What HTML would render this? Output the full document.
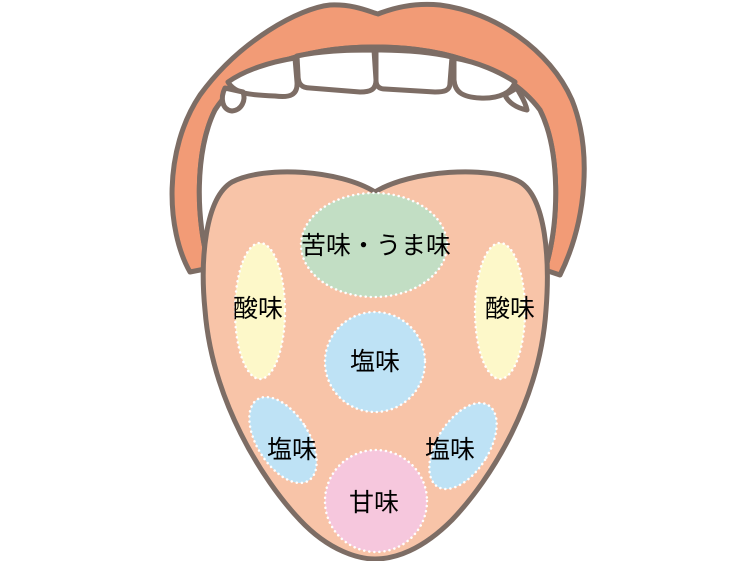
<!DOCTYPE html>
<html><head><meta charset="utf-8"><style>
html,body{margin:0;padding:0;background:#fff;width:750px;height:561px;overflow:hidden}
text{font-family:"Liberation Sans","Noto Sans CJK JP",sans-serif;font-size:25px;fill:#000;text-anchor:middle}
</style></head><body>
<svg width="750" height="561" viewBox="0 0 750 561" xmlns="http://www.w3.org/2000/svg">
<g stroke="#7d6d65" stroke-width="5" stroke-linejoin="round">
<path d="M190,272 C166,230 163,150 200,95 C240,40 300,8 330,5 C355,4 370,12 378,14 C388,10 410,2 440,5 C495,12 550,50 572,100 C592,150 587,220 560,275 L545,270 C560,220 560,150 540,110 C510,70 450,47 375,47 C300,47 240,70 215,110 C195,150 195,220 210,268 Z" fill="#f29b76"/>
<path d="M210,268 C195,220 195,150 215,110 C240,70 300,47 375,47 C450,47 510,70 540,110 C560,150 560,220 545,270 Z" fill="#fff"/>
<path d="M228,82 C245,70 270,62 295,58 L297,82 C298,95 290,98 275,96 C250,95 235,94 228,82 Z" fill="#fff"/>
<path d="M297,56 C320,51 345,50 374,50 L376,80 C376,90 370,92 360,92 L310,88 C300,88 298,82 298,75 Z" fill="#fff"/>
<path d="M376,50 C405,50 430,52 452,57 L450,83 C450,91 444,92 435,92 L385,89 C378,89 376,85 376,80 Z" fill="#fff"/>
<path d="M454,58 C478,62 500,72 515,82 C512,92 500,99 480,98 C462,97 455,92 454,80 Z" fill="#fff"/>
<path d="M225,88 C220,98 222,110 232,111 C242,110 246,100 243,92 Z" fill="#fff"/>
<path d="M505,95 C508,102 516,108 527,110 C525,100 520,95 517,88 Z" fill="#fff"/>
<path d="M375,192 C340,170 265,165 232,182 C205,198 200,260 205,310 C212,400 262,480 300,520 C330,552 360,559 375,559 C395,559 422,550 452,520 C492,478 540,400 546,310 C550,260 546,198 520,182 C490,165 410,170 375,192 Z" fill="#f8c4a8"/>
</g>
<g stroke="#fff" stroke-width="2.5" stroke-dasharray="0.1 5" stroke-linecap="round">
<ellipse cx="374" cy="245" rx="73" ry="52" fill="#c2dec4"/>
<ellipse cx="260" cy="311" rx="25" ry="68" fill="#fdf8c9"/>
<ellipse cx="500" cy="311" rx="25" ry="68" fill="#fdf8c9"/>
<circle cx="375" cy="362" r="50" fill="#bee2f5"/>
<ellipse cx="283" cy="440" rx="26" ry="48" transform="rotate(-32 283 440)" fill="#bee2f5"/>
<ellipse cx="463" cy="446" rx="26" ry="48" transform="rotate(32 463 446)" fill="#bee2f5"/>
<circle cx="376" cy="501" r="51" fill="#f6c7dd"/>
</g>
<text x="376" y="254">苦味・うま味</text>
<text x="258" y="317">酸味</text>
<text x="510" y="317">酸味</text>
<text x="375" y="370">塩味</text>
<text x="292" y="458">塩味</text>
<text x="450" y="458">塩味</text>
<text x="374" y="511">甘味</text>
</svg>
</body></html>
